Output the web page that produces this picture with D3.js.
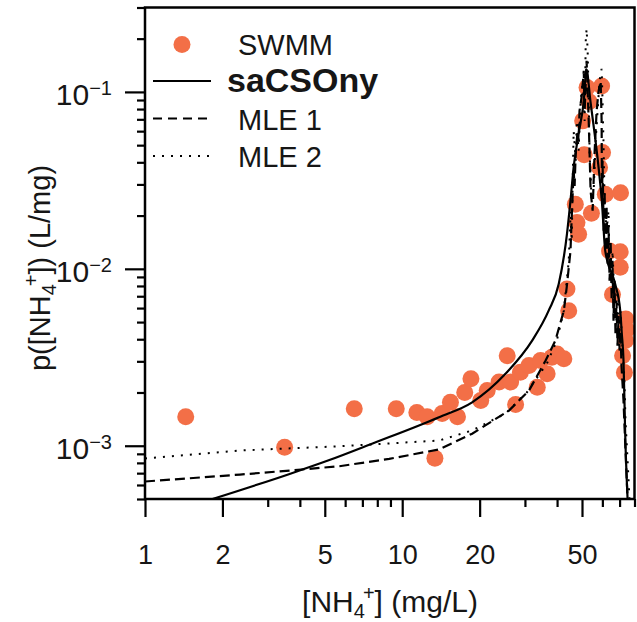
<!DOCTYPE html>
<html>
<head>
<meta charset="utf-8">
<script src="https://cdn.jsdelivr.net/npm/d3@7"></script>
<style>
  body { margin: 0; background: #fff; }
  text { font-family: "Liberation Sans", Arial, sans-serif; fill: #161616; }
</style>
</head>
<body>
<div id="chart"></div>
<script>
// SWMM points
const swmmX = [1.44, 3.49, 6.51, 9.48, 11.4, 12.5, 13.4, 14.3, 15.4, 16.4,
  17.5, 18.5, 20.2, 21.4, 23.8, 25.6, 26.4, 27.6, 28.8, 31.1,
  33.5, 34.5, 36.6, 38.2, 40.0, 42.5, 43.7, 44.4, 47.1, 47.8,
  48.5, 54.4, 52.3, 59.6, 53.3, 50.3, 51.0, 60.1, 58.5, 61.6,
  70.6, 64.0, 70.4, 70.4, 65.7, 74.0, 74.5, 73.8, 71.9, 73.1];
const swmmY = [1.46e-3, 9.8e-4, 1.62e-3, 1.62e-3, 1.54e-3, 1.46e-3, 8.5e-4, 1.52e-3, 1.76e-3, 1.46e-3,
  2.0e-3, 2.39e-3, 1.80e-3, 2.05e-3, 2.29e-3, 3.23e-3, 2.29e-3, 1.71e-3, 2.60e-3, 2.84e-3,
  2.14e-3, 3.03e-3, 2.55e-3, 3.16e-3, 3.30e-3, 3.10e-3, 7.69e-3, 5.8e-3, 2.32e-2, 1.83e-2,
  1.57e-2, 2.06e-2, 0.106, 0.108, 0.0879, 0.0686, 0.0441, 0.0454, 0.0374, 0.0264,
  0.0269, 0.0126, 0.0125, 0.0102, 7.15e-3, 5.21e-3, 4.53e-3, 3.93e-3, 3.23e-3, 2.59e-3];

// saCSOny curve
const sacsonyX = [1.83, 3.65, 5.21, 7.67, 13.9, 18.7, 25.2, 32.0, 37.1, 40.6, 43.7, 45.1, 46.4,
  48.5, 50.8, 52.0, 53.9, 58.0, 59.7, 61.6, 67.3, 70.4, 71.4, 72.5, 73.6, 75.2];
const sacsonyY = [5.0e-4, 6.93e-4, 8.3e-4, 1.03e-3, 1.45e-3, 1.76e-3, 2.55e-3, 3.93e-3, 5.8e-3, 8.2e-3, 1.57e-2, 2.43e-2, 3.74e-2,
  5.79e-2, 8.89e-2, 0.134, 0.0889, 0.0374, 0.0243, 0.0126, 8.2e-3, 5.8e-3, 4.31e-3, 3.03e-3, 1.17e-3, 5.0e-4];

// MLE 1 curve
const mle1X = [1, 2.34, 3.65, 5.70, 8.90, 13.9, 18.7, 26.0, 31.1, 36.1, 39.4, 42.5, 43.6, 45.1, 45.6,
  46.4, 46.8, 47.3, 48.1, 48.5, 48.9, 49.9, 50.8, 51.2, 52.1, 53.1, 54.0, 55.0, 56.0, 57.0, 58.0,
  59.1, 59.6, 59.8, 60.1, 60.7, 61.2, 61.8, 62.3, 62.9, 63.4, 64.0, 64.6, 65.2, 65.7, 66.3, 66.9,
  67.5, 68.1, 68.7, 69.4, 70.0, 70.6, 71.2, 72.5, 73.8, 75.2];
const mle1Y = [6.28e-4, 6.87e-4, 7.24e-4, 7.66e-4, 8.43e-4, 9.53e-4, 1.17e-3, 1.58e-3, 2.05e-3, 3.03e-3, 3.93e-3, 5.8e-3, 7.85e-3, 1.26e-2, 1.95e-2,
  0.0358, 0.0294, 0.0464, 0.0602, 0.0529, 0.0781, 0.0949, 0.1315, 0.0781, 0.150, 0.0686, 0.0276, 0.0213, 0.0464, 0.0781, 0.101,
  0.115, 0.0686, 0.0243, 0.0408, 0.0164, 0.0276, 0.0126, 0.0227, 0.0104, 0.0175, 0.00857, 0.0144, 0.00661, 0.0111, 0.00509, 0.00857,
  0.00419, 0.00661, 0.00368, 0.00543, 0.00345, 0.00447, 0.00284, 0.00180, 0.00094, 5.0e-4];

// MLE 2 curve
const mle2X = [1, 2.34, 5.70, 13.9, 18.7, 25.2, 30.5, 36.5, 39.9, 42.5, 44.4,
  45.2, 45.6, 46.0, 46.4, 47.3, 47.7, 48.5, 49.4, 50.3, 51.2, 51.7, 52.1, 52.6, 53.1, 53.5, 54.5,
  55.5, 56.5, 57.5, 58.5, 59.6, 60.1, 60.7, 61.2, 62.3, 63.4, 64.0, 65.2, 65.7, 66.9, 68.1, 68.7,
  70.0, 70.6, 71.9, 73.1, 73.8, 75.2, 76.5];
const mle2Y = [8.47e-4, 9.4e-4, 9.93e-4, 1.07e-3, 1.22e-3, 1.52e-3, 2.0e-3, 2.91e-3, 3.93e-3, 5.8e-3, 1.11e-2,
  0.0213, 0.0144, 0.0314, 0.0602, 0.0408, 0.0686, 0.0464, 0.0889, 0.115, 0.0686, 0.194, 0.227, 0.170, 0.0889, 0.0464, 0.0243,
  0.0276, 0.0529, 0.0781, 0.115, 0.135, 0.0889, 0.0464, 0.0243, 0.0164, 0.0213, 0.0111, 0.00857, 0.0126, 0.00661, 0.00509, 0.00752,
  0.00447, 0.0058, 0.00345, 0.00233, 0.00139, 8.25e-4, 5.0e-4];

// ticks
const xMajorTicks = [1, 2, 5, 10, 20, 50];
const xMinorTicks = [3, 4, 6, 7, 8, 9, 30, 40, 60, 70, 80];
const yMajorTicks = [1e-3, 1e-2, 1e-1];
const yMinorTicks = [5e-4, 6e-4, 7e-4, 8e-4, 9e-4, 2e-3, 3e-3, 4e-3, 5e-3, 6e-3, 7e-3, 8e-3, 9e-3,
  2e-2, 3e-2, 4e-2, 5e-2, 6e-2, 7e-2, 8e-2, 9e-2, 0.2, 0.3];

const width = 637, height = 622;
const margin = {left: 145, right: 634.5, top: 7.5, bottom: 499};
const orange = "#f36f47";

const svg = d3.select("#chart").append("svg")
  .attr("width", width).attr("height", height);

const x = d3.scaleLog().domain([1, 80]).range([margin.left, margin.right]);
const y = d3.scaleLog().domain([5e-4, 0.3]).range([margin.bottom, margin.top]);

svg.append("clipPath").attr("id", "plot")
  .append("rect").attr("x", margin.left).attr("y", margin.top)
  .attr("width", margin.right - margin.left).attr("height", margin.bottom - margin.top);

// points
const plot = svg.append("g").attr("clip-path", "url(#plot)");
plot.selectAll("circle")
  .data(d3.zip(swmmX, swmmY))
  .enter().append("circle")
    .attr("cx", d => x(d[0]))
    .attr("cy", d => y(d[1]))
    .attr("r", 8.5)
    .attr("fill", orange);

// curves
const line = d3.line().x(d => x(d[0])).y(d => y(d[1]));
plot.append("path")
  .datum(d3.zip(mle2X, mle2Y))
  .attr("d", line)
  .attr("fill", "none").attr("stroke", "#000")
  .attr("stroke-width", 2).attr("stroke-dasharray", "2,7");
plot.append("path")
  .datum(d3.zip(mle1X, mle1Y))
  .attr("d", line)
  .attr("fill", "none").attr("stroke", "#000")
  .attr("stroke-width", 2.2).attr("stroke-dasharray", "10,5");
plot.append("path")
  .datum(d3.zip(sacsonyX, sacsonyY))
  .attr("d", line.curve(d3.curveMonotoneX))
  .attr("fill", "none").attr("stroke", "#000")
  .attr("stroke-width", 2.2);

// axes
function styleAxis(g) {
  g.select(".domain").remove();
  g.selectAll(".tick line").attr("stroke", "#000").attr("stroke-width", 2.2);
}

svg.append("g")
  .attr("transform", `translate(0, ${margin.bottom})`)
  .call(d3.axisBottom(x).tickValues(xMinorTicks).tickSize(8).tickFormat(""))
  .call(styleAxis);

const xAxis = svg.append("g")
  .attr("transform", `translate(0, ${margin.bottom})`)
  .call(d3.axisBottom(x).tickValues(xMajorTicks).tickSize(18).tickPadding(28).tickFormat(d3.format("d")))
  .call(styleAxis);
xAxis.selectAll(".tick text")
  .attr("font-size", 27).attr("font-family", "Liberation Sans, Arial, sans-serif").attr("fill", "#161616");

svg.append("g")
  .attr("transform", `translate(${margin.left}, 0)`)
  .call(d3.axisLeft(y).tickValues(yMinorTicks).tickSize(8).tickFormat(""))
  .call(styleAxis);

const yAxis = svg.append("g")
  .attr("transform", `translate(${margin.left}, 0)`)
  .call(d3.axisLeft(y).tickValues(yMajorTicks).tickSize(20).tickPadding(13))
  .call(styleAxis);
yAxis.selectAll(".tick text")
  .attr("font-size", 30).attr("font-family", "Liberation Sans, Arial, sans-serif").attr("fill", "#161616")
  .attr("dy", "0.42em")
  .each(function(d) {
    const t = d3.select(this).text("");
    t.append("tspan").text("10");
    t.append("tspan").attr("dy", "-0.5em").attr("font-size", 20)
      .text("\u2212" + Math.round(-Math.log10(d)));
  });

// frame
svg.append("rect")
  .attr("x", margin.left).attr("y", margin.top)
  .attr("width", margin.right - margin.left).attr("height", margin.bottom - margin.top)
  .attr("fill", "none").attr("stroke", "#000").attr("stroke-width", 2.5);

// axis titles
const xt = svg.append("text")
  .attr("x", 390).attr("y", 612)
  .attr("text-anchor", "middle").attr("font-size", 30);
xt.append("tspan").text("[NH");
xt.append("tspan").attr("font-size", 20).attr("dy", 6).text("4");
xt.append("tspan").attr("font-size", 20).attr("dy", -18).attr("dx", -2).text("+");
xt.append("tspan").attr("dy", 12).text("] (mg/L)");

const yt = svg.append("text")
  .attr("transform", "translate(50, 268) rotate(-90)")
  .attr("text-anchor", "middle").attr("font-size", 29);
yt.append("tspan").text("p([NH");
yt.append("tspan").attr("font-size", 20).attr("dy", 6).text("4");
yt.append("tspan").attr("font-size", 20).attr("dy", -18).attr("dx", -2).text("+");
yt.append("tspan").attr("dy", 12).text("]) (L/mg)");

// legend
const legend = svg.append("g");
legend.append("circle").attr("cx", 182).attr("cy", 44.5).attr("r", 8.5).attr("fill", orange);
legend.append("text").attr("x", 238).attr("y", 55).attr("font-size", 29).text("SWMM");

legend.append("line").attr("x1", 153).attr("x2", 211).attr("y1", 81).attr("y2", 81)
  .attr("stroke", "#000").attr("stroke-width", 2.2);
legend.append("text").attr("x", 227).attr("y", 92)
  .attr("font-family", "Open Sans, sans-serif").attr("font-weight", 700)
  .attr("font-size", 34).attr("fill", "#111").text("saCSOny");

legend.append("line").attr("x1", 153).attr("x2", 207).attr("y1", 118.5).attr("y2", 118.5)
  .attr("stroke", "#000").attr("stroke-width", 2.2).attr("stroke-dasharray", "9,6");
legend.append("text").attr("x", 238).attr("y", 130).attr("font-size", 29).text("MLE 1");

legend.append("line").attr("x1", 153).attr("x2", 211).attr("y1", 156).attr("y2", 156)
  .attr("stroke", "#000").attr("stroke-width", 2).attr("stroke-dasharray", "2,7");
legend.append("text").attr("x", 238).attr("y", 167).attr("font-size", 29).text("MLE 2");
</script>
</body>
</html>
